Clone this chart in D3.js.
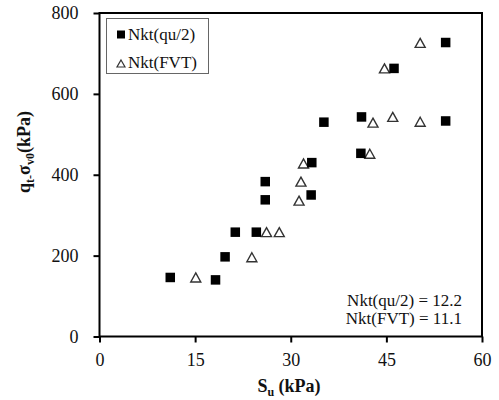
<!DOCTYPE html>
<html>
<head>
<meta charset="utf-8">
<script src="https://cdn.jsdelivr.net/npm/d3@7"></script>
<style>
  html, body { margin: 0; padding: 0; background: #fff; }
  svg { display: block; font-family: "Liberation Serif", "Times New Roman", serif; }
</style>
</head>
<body>
<svg id="chart" width="499" height="400"></svg>
<script>
// Series: Nkt(qu/2) — filled squares
const quSu = [11.1, 18.2, 19.7, 21.3, 24.6, 26.0, 26.0, 33.2, 33.3, 35.2, 41.1, 41.0, 46.2, 54.3, 54.3];
const quQt = [146, 140, 197, 258, 258, 383, 338, 350, 430, 530, 543, 453, 663, 727, 533];
// Series: Nkt(FVT) — open triangles
const fvtSu = [15.1, 23.9, 26.2, 28.2, 31.3, 31.6, 32.0, 42.4, 42.9, 46.0, 44.7, 50.3, 50.3];
const fvtQt = [146, 196, 258, 258, 336, 383, 428, 452, 529, 543, 663, 531, 726];
const xTicks = [0, 15, 30, 45, 60];
const yTicks = [0, 200, 400, 600, 800];
const legendLabels = ["Nkt(qu/2)", "Nkt(FVT)"];
const noteLines = ["Nkt(qu/2) = 12.2", "Nkt(FVT) = 11.1"];

const svg = d3.select("#chart");
const x = d3.scaleLinear().domain([0, 60]).range([99.5, 482]);
const y = d3.scaleLinear().domain([0, 800]).range([336.5, 13]);

// axes
const xAxis = svg.append("g").attr("transform", `translate(0,${y(0)})`)
  .call(d3.axisBottom(x).tickValues(xTicks).tickSize(6).tickPadding(11));
const yAxis = svg.append("g").attr("transform", `translate(${x(0)},0)`)
  .call(d3.axisLeft(y).tickValues(yTicks).tickSize(6).tickPadding(15));
[xAxis, yAxis].forEach(g => {
  g.select(".domain").remove();
  g.selectAll(".tick line").attr("stroke", "#000").attr("stroke-width", 2);
  g.selectAll(".tick text").attr("font-family", "Liberation Serif, serif")
    .attr("font-size", 18).attr("fill", "#111");
});

// frame
svg.append("rect")
  .attr("x", x(0)).attr("y", y(800))
  .attr("width", x(60) - x(0)).attr("height", y(0) - y(800))
  .attr("fill", "none").attr("stroke", "#000").attr("stroke-width", 2);

// triangle path
const triPath = (w, h) => `M0,${-h/2}L${w/2},${h/2}L${-w/2},${h/2}Z`;

// FVT triangles
svg.append("g").selectAll("path").data(fvtSu.map((s, i) => [s, fvtQt[i]]))
  .join("path")
  .attr("d", triPath(10, 9))
  .attr("transform", d => `translate(${x(d[0])},${y(d[1])})`)
  .attr("fill", "#fff").attr("stroke", "#333").attr("stroke-width", 1.4);

// qu/2 squares
const sq = 9.5;
svg.append("g").selectAll("rect").data(quSu.map((s, i) => [s, quQt[i]]))
  .join("rect")
  .attr("x", d => x(d[0]) - sq/2).attr("y", d => y(d[1]) - sq/2)
  .attr("width", sq).attr("height", sq).attr("fill", "#000");

// legend
const lg = svg.append("g");
lg.append("rect").attr("x", 106.5).attr("y", 18.5).attr("width", 102).attr("height", 55)
  .attr("fill", "#fff").attr("stroke", "#666").attr("stroke-width", 1);
lg.append("rect").attr("x", 117).attr("y", 30.5).attr("width", 8).attr("height", 8).attr("fill", "#000");
lg.append("path").attr("d", triPath(8, 7)).attr("transform", "translate(121,63.5)")
  .attr("fill", "#fff").attr("stroke", "#333").attr("stroke-width", 1.2);
lg.selectAll("text").data(legendLabels).join("text")
  .attr("x", 128).attr("y", (d, i) => 40 + i * 28)
  .attr("font-size", 17).attr("fill", "#111").text(d => d);

// note
svg.append("g").selectAll("text").data(noteLines).join("text")
  .attr("x", 462).attr("y", (d, i) => 306 + i * 18)
  .attr("text-anchor", "end").attr("font-size", 17).attr("fill", "#111")
  .text(d => d);

// x label
const xl = svg.append("text").attr("x", 289).attr("y", 392).attr("text-anchor", "middle")
  .attr("font-size", 18).attr("font-weight", "bold").attr("fill", "#111");
xl.append("tspan").text("S");
xl.append("tspan").attr("font-size", 12).attr("dy", 4).text("u");
xl.append("tspan").attr("dy", -4).text(" (kPa)");

// y label
const yl = svg.append("text").attr("transform", "translate(30,152) rotate(-90)")
  .attr("text-anchor", "middle").attr("font-size", 18).attr("font-weight", "bold").attr("fill", "#111");
yl.append("tspan").text("q");
yl.append("tspan").attr("font-size", 12).attr("dy", 4).text("t-");
yl.append("tspan").attr("dy", -4).text("σ");
yl.append("tspan").attr("font-size", 12).attr("dy", 4).text("v0");
yl.append("tspan").attr("dy", -4).text("(kPa)");
</script>
</body>
</html>
